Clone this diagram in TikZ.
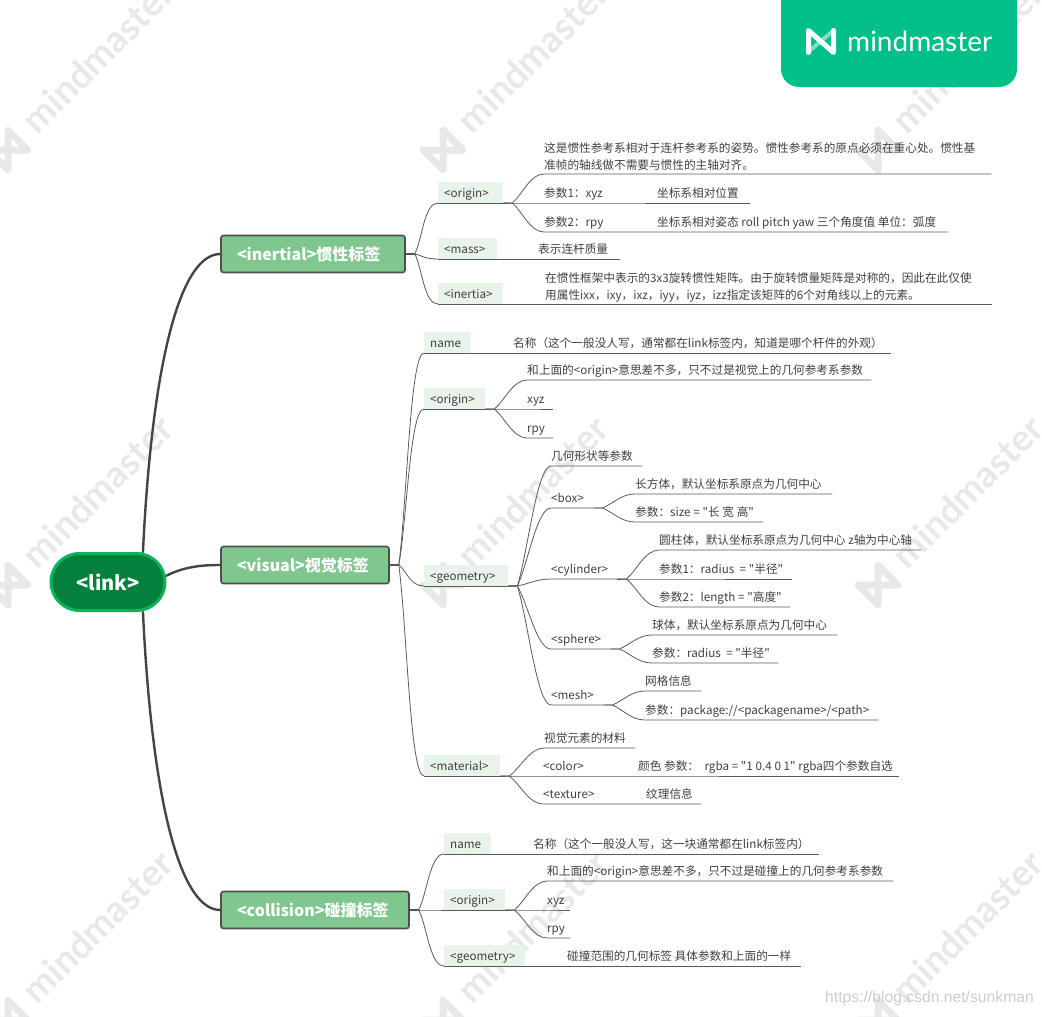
\documentclass[tikz,border=0pt]{standalone}
\usepackage{fontspec}
\setmainfont{Noto Sans CJK SC}[Ligatures=TeXOff]
\newfontfamily\brandfont{Lato}
\newfontfamily\urlfont{Liberation Sans}
\usetikzlibrary{arrows.meta, calc, shapes.misc}

\newcommand{\tightspace}{\spaceskip=2.7pt\relax}

\tikzset{
  leaf/.style={anchor=south west, inner sep=0pt, text width=#1, align=left, text=textgray,
    font=\fontsize{11.65}{17}\selectfont,
    execute at begin node={\tightspace\strut}, execute at end node=\rule[-4.6pt]{0pt}{4.6pt}},
  tag/.style={leaf=#1, fill=tagfill, inner xsep=6pt, execute at begin node=\rule[-4.4pt]{0pt}{20pt}, execute at end node={}},
  topicbox/.style={draw=boxline, fill=boxfill, line width=1.6pt, rounded corners=2.5pt, inner xsep=16pt, inner ysep=0pt,
    text width=#1, align=left, minimum height=37pt, text height=15pt, text depth=3pt, text=white,
    font=\fontsize{16}{20}\selectfont\bfseries},
  rootbox/.style={rounded rectangle, draw=rootline, fill=rootfill, line width=3pt, inner sep=0pt,
    minimum width=114pt, minimum height=57pt, text height=18pt, text depth=2pt, text=white,
    font=\fontsize{20}{24}\selectfont\bfseries},
  trunk/.style={draw=trunkgray, line width=2.4pt},
  stem/.style={draw=trunkgray, line width=1.6pt},
  rule/.style={draw=rulegray, line width=0.8pt},
  branch/.style={to path={-- ($(\tikztostart)+(9,0)$)
    .. controls ($(\tikztostart)!.3!(\tikztotarget)+(7,0)$) and ($(\tikztotarget)+(-14,0)$) .. (\tikztotarget)}},
  mark text/.style={text=wmgray, font=\brandfont\bfseries\fontsize{37}{40}\selectfont, rotate=45, anchor=west, inner sep=0pt},
  mark logo/.style={draw=wmgray, line width=7pt, line join=round, line cap=round},
}

\begin{document}
\begin{tikzpicture}[x=1pt, y=-1pt, >=Stealth]
  % 定义颜色
  \definecolor{textgray}{RGB}{64,64,64}
  \definecolor{rulegray}{RGB}{90,90,90}
  \definecolor{trunkgray}{RGB}{68,68,68}
  \definecolor{boxline}{RGB}{75,80,75}
  \definecolor{boxfill}{RGB}{128,198,143}
  \definecolor{tagfill}{RGB}{232,243,234}
  \definecolor{rootfill}{RGB}{3,128,58}
  \definecolor{rootline}{RGB}{10,178,90}
  \definecolor{brandgreen}{RGB}{0,192,136}
  \definecolor{wmgray}{RGB}{232,232,232}

  \useasboundingbox (0,0) rectangle (1042,1017);

  % 水印
  \begin{scope}
    \clip (0,0) rectangle (1042,1017);
    \foreach \wx in {0,1,2}
      \foreach \wy in {-1,0,1,2} {
        \begin{scope}[shift={(8+435*\wx,150+435*\wy)}]
          \draw[mark logo, rotate=45] (-14,14) -- (-14,-14) -- (14,14) -- (14,-14) -- cycle;
          \node[mark text] (mark\wx\wy) at (20,-24) {mindmaster};
        \end{scope}
      }
  \end{scope}

  % 品牌标识
  \fill[brandgreen, rounded corners=18pt] (781,-30) rectangle (1017,87);
  \draw[white, opacity=.5, line width=4pt] (833,31) -- (808,52);
  \draw[white, line width=5pt, line join=round, line cap=round]
    (808.5,52.5) -- (808.5,30.5) -- (833.5,52.5) -- (833.5,30.5);
  \node[text=white, font=\brandfont\fontsize{28}{30}\selectfont, anchor=west, inner sep=0pt] (brand) at (847,41) {mindmaster};

  % 中心主题与三个分支
  \node[rootbox] (link) at (108,582) {<link>};
  \node[topicbox=152pt] (inertial) at (313,254) {<inertial>惯性标签};
  \node[topicbox=136pt] (visual) at (305,565) {<visual>视觉标签};
  \node[topicbox=156pt] (collision) at (315,910) {<collision>碰撞标签};

  \draw[trunk] (link.40) .. controls +(9,-190) and +(-40,0) .. (inertial.west);
  \draw[trunk] (link.6) .. controls +(18,-9) and +(-20,0) .. (visual.west);
  \draw[trunk] (link.-40) .. controls +(9,190) and +(-40,0) .. (collision.west);

  % <inertial> 的子节点
  \node[tag=53pt] (iOrigin) at (438,203) {<origin>};
  \node[leaf=447pt] (iOriginDesc) at (544,174) {这是惯性参考系相对于连杆参考系的姿势。惯性参考系的原点必须在重心处。惯性基\\准帧的轴线做不需要与惯性的主轴对齐。};
  \node[leaf=206pt] (iXyz) at (544,203) {\makebox[113pt][l]{参数1：xyz}坐标系相对位置};
  \node[leaf=403pt] (iRpy) at (544,232) {\makebox[113pt][l]{参数2：rpy}坐标系相对姿态 roll pitch yaw 三个角度值 单位：弧度};
  \node[tag=47pt] (iMass) at (438,259) {<mass>};
  \node[leaf=82pt] (iMassVal) at (538,259) {表示连杆质量};
  \node[tag=53pt] (iInertia) at (438,304) {<inertia>};
  \node[leaf=447pt] (iInertiaVal) at (545,304) {在惯性框架中表示的3x3旋转惯性矩阵。由于旋转惯量矩阵是对称的，因此在此仅使\\用属性ixx，ixy，ixz，iyy，iyz，izz指定该矩阵的6个对角线以上的元素。};

  % <visual> 的子节点
  \node[tag=35pt] (vName) at (424,353) {name};
  \node[leaf=378pt] (vNameVal) at (513,353) {名称（这个一般没人写，通常都在link标签内，知道是哪个杆件的外观）};
  \node[tag=49pt] (vOrigin) at (424,409) {<origin>};
  \node[leaf=344pt] (vOriginDesc) at (527,380) {和上面的<origin>意思差不多，只不过是视觉上的几何参考系参数};
  \node[leaf=26pt] (vXyz) at (527,409) {xyz};
  \node[leaf=26pt] (vRpy) at (527,438) {rpy};
  \node[tag=72pt] (vGeometry) at (424,586) {<geometry>};
  \node[leaf=91pt] (gDesc) at (551,466) {几何形状等参数};
  \node[leaf=42pt] (gBox) at (551,508) {<box>};
  \node[leaf=197pt] (gBoxDesc) at (635,494) {长方体，默认坐标系原点为几何中心};
  \node[leaf=128pt] (gBoxSize) at (635,522) {参数：size = "长 宽 高"};
  \node[leaf=66pt] (gCylinder) at (551,579) {<cylinder>};
  \node[leaf=262pt] (gCylDesc) at (659,550) {圆柱体，默认坐标系原点为几何中心 z轴为中心轴};
  \node[leaf=133pt] (gCylRadius) at (659,579) {参数1：radius \ = "半径"};
  \node[leaf=131pt] (gCylLength) at (659,607) {参数2：length = "高度"};
  \node[leaf=59pt] (gSphere) at (551,649) {<sphere>};
  \node[leaf=185pt] (gSphDesc) at (652,635) {球体，默认坐标系原点为几何中心};
  \node[leaf=126pt] (gSphRadius) at (652,663) {参数：radius \ = "半径"};
  \node[leaf=52pt] (gMesh) at (551,705) {<mesh>};
  \node[leaf=56pt] (gMeshDesc) at (645,691) {网格信息};
  \node[leaf=233pt] (gMeshPkg) at (645,720) {参数：package://<packagename>/<path>};
  \node[tag=64pt] (vMaterial) at (424,776) {<material>};
  \node[leaf=91pt] (mDesc) at (544,748) {视觉元素的材料};
  \node[leaf=356pt] (mColor) at (543,776) {\makebox[95pt][l]{<color>}\mbox{颜色 参数： \ rgba = "1 0.4 0 1" rgba四个参数自选}};
  \node[leaf=158pt] (mTexture) at (543,804) {\makebox[103pt][l]{<texture>}纹理信息};

  % <collision> 的子节点
  \node[tag=35pt] (cName) at (444,854) {name};
  \node[leaf=286pt] (cNameVal) at (533,854) {名称（这个一般没人写，这一块通常都在link标签内）};
  \node[tag=49pt] (cOrigin) at (444,910) {<origin>};
  \node[leaf=346pt] (cOriginDesc) at (547,881) {和上面的<origin>意思差不多，只不过是碰撞上的几何参考系参数};
  \node[leaf=23pt] (cXyz) at (547,910) {xyz};
  \node[leaf=23pt] (cRpy) at (547,938) {rpy};
  \node[tag=69pt] (cGeometry) at (444,966) {<geometry>};
  \node[leaf=234pt] (cGeometryVal) at (567,966) {碰撞范围的几何标签 具体参数和上面的一样};

  % 分支短线
  \foreach \parent in {inertial,visual,collision}
    \draw[stem] (\parent.east) -- ++(9,0);

  % 连接线
  \foreach \parent/\child in {
    inertial.east/iOrigin, inertial.east/iMass, inertial.east/iInertia,
    visual.east/vName, visual.east/vOrigin, visual.east/vGeometry, visual.east/vMaterial,
    collision.east/cName, collision.east/cOrigin, collision.east/cGeometry}
    \draw[rule] (\parent) to[branch] (\child.south west);
  \foreach \parent/\child in {
    iOrigin/iOriginDesc, iOrigin/iXyz, iOrigin/iRpy,
    vOrigin/vOriginDesc, vOrigin/vXyz, vOrigin/vRpy,
    vGeometry/gDesc, vGeometry/gBox, vGeometry/gCylinder, vGeometry/gSphere, vGeometry/gMesh,
    gBox/gBoxDesc, gBox/gBoxSize,
    gCylinder/gCylDesc, gCylinder/gCylRadius, gCylinder/gCylLength,
    gSphere/gSphDesc, gSphere/gSphRadius,
    gMesh/gMeshDesc, gMesh/gMeshPkg,
    vMaterial/mDesc, vMaterial/mColor, vMaterial/mTexture,
    cOrigin/cOriginDesc, cOrigin/cXyz, cOrigin/cRpy}
    \draw[rule] (\parent.south east) to[branch] (\child.south west) -- (\child.south east);

  % 下划线
  \foreach \first/\last in {
    iOrigin/iOrigin, iMass/iMassVal, iInertia/iInertiaVal,
    vName/vNameVal, vOrigin/vOrigin, vGeometry/vGeometry, vMaterial/vMaterial,
    cName/cNameVal, cOrigin/cOrigin, cGeometry/cGeometryVal}
    \draw[rule] (\first.south west) -- (\last.south east);

  % 链接文字
  \node[text=black!20, font=\urlfont\fontsize{15.7}{17}\selectfont, anchor=east, inner sep=0pt] (source) at (1034,998) {https://blog.csdn.net/sunkman};
\end{tikzpicture}
\end{document}
